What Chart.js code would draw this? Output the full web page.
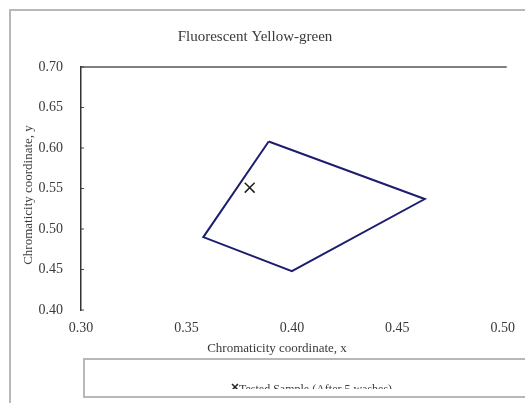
<!DOCTYPE html>
<html>
<head>
<meta charset="utf-8">
<script src="https://cdn.jsdelivr.net/npm/chart.js@4/dist/chart.umd.min.js"></script>
<style>
  html, body { margin: 0; padding: 0; background: #fff; }
  canvas { display: block; }
</style>
</head>
<body>
<canvas id="chart" width="525" height="403"></canvas>
<script>
// Data
const regionX = [0.389, 0.463, 0.400, 0.358, 0.389];
const regionY = [0.608, 0.537, 0.448, 0.490, 0.608];
const sampleX = [0.380];
const sampleY = [0.551];
const xTicks = [0.30, 0.35, 0.40, 0.45, 0.50];
const yTicks = [0.40, 0.45, 0.50, 0.55, 0.60, 0.65, 0.70];

const serif = '"Liberation Serif", "Times New Roman", serif';
const textColor = '#3a3a3a';

// Frame, top border, inner ticks, axis titles and the clipped legend box
const decor = {
  id: 'decor',
  beforeDraw(chart) {
    const ctx = chart.ctx;
    ctx.save();
    ctx.strokeStyle = '#b8b8b8';
    ctx.lineWidth = 2;
    ctx.strokeRect(10, 10, 540, 420);
    ctx.restore();
  },
  afterDraw(chart) {
    const { ctx, chartArea } = chart;
    const xs = chart.scales.x, ys = chart.scales.y;
    ctx.save();
    // top line of plot
    ctx.strokeStyle = '#555';
    ctx.lineWidth = 1.5;
    ctx.beginPath();
    ctx.moveTo(chartArea.left, chartArea.top);
    ctx.lineTo(chartArea.right + 4, chartArea.top);
    ctx.stroke();
    // small inside ticks on the y axis
    ctx.lineWidth = 1;
    ctx.strokeStyle = '#444';
    yTicks.forEach(v => {
      const py = ys.getPixelForValue(v);
      ctx.beginPath();
      ctx.moveTo(chartArea.left, py);
      ctx.lineTo(chartArea.left + 3, py);
      ctx.stroke();
    });
    // axis titles
    ctx.fillStyle = textColor;
    ctx.font = '13px ' + serif;
    ctx.textAlign = 'center';
    ctx.textBaseline = 'middle';
    ctx.fillText('Chromaticity coordinate, x', 277, 349);
    ctx.translate(29, 195);
    ctx.rotate(-Math.PI / 2);
    ctx.fillText('Chromaticity coordinate, y', 0, 0);
    ctx.restore();

    // legend box, text cut by the lower edge
    ctx.save();
    ctx.strokeStyle = '#b8b8b8';
    ctx.lineWidth = 2;
    ctx.strokeRect(84, 359, 460, 38);
    ctx.beginPath();
    ctx.rect(85, 360, 440, 29);
    ctx.clip();
    ctx.fillStyle = textColor;
    ctx.font = '12px ' + serif;
    ctx.textAlign = 'left';
    ctx.textBaseline = 'alphabetic';
    ctx.fillText('Tested Sample (After 5 washes)', 239, 393);
    ctx.strokeStyle = '#222';
    ctx.lineWidth = 1.5;
    ctx.beginPath();
    ctx.moveTo(232, 384); ctx.lineTo(238, 390);
    ctx.moveTo(238, 384); ctx.lineTo(232, 390);
    ctx.stroke();
    ctx.restore();
  }
};

new Chart(document.getElementById('chart'), {
  type: 'scatter',
  data: {
    datasets: [
      {
        label: 'Fluorescent yellow-green region',
        data: regionX.map((x, i) => ({ x, y: regionY[i] })),
        showLine: true,
        borderColor: '#1e1e6e',
        borderWidth: 2,
        pointRadius: 0,
        tension: 0
      },
      {
        label: 'Tested Sample (After 5 washes)',
        data: sampleX.map((x, i) => ({ x, y: sampleY[i] })),
        pointStyle: 'crossRot',
        pointRadius: 7,
        borderColor: '#222',
        borderWidth: 1.5
      }
    ]
  },
  options: {
    responsive: false,
    animation: false,
    layout: { padding: { left: 0, right: 15, bottom: 58, top: 0 } },
    plugins: {
      legend: { display: false },
      tooltip: { enabled: false },
      title: {
        display: true,
        text: 'Fluorescent Yellow-green',
        color: textColor,
        font: { family: serif, size: 15, weight: 'normal' },
        padding: { top: 28, bottom: 21 }
      }
    },
    scales: {
      x: {
        type: 'linear',
        min: 0.30,
        max: 0.50,
        afterBuildTicks: s => { s.ticks = xTicks.map(v => ({ value: v })); },
        afterFit: s => { s.height = 35; },
        grid: { display: false, drawTicks: false },
        border: { display: false },
        ticks: {
          callback: v => v.toFixed(2),
          color: textColor,
          font: { family: serif, size: 14 },
          padding: 10,
          maxRotation: 0,
          autoSkip: false
        }
      },
      y: {
        min: 0.40,
        max: 0.70,
        afterBuildTicks: s => { s.ticks = yTicks.map(v => ({ value: v })); },
        afterFit: s => { s.width = 81; },
        grid: { display: false, drawTicks: false },
        border: { display: true, color: '#333', width: 1.5 },
        ticks: {
          callback: v => v.toFixed(2),
          color: textColor,
          font: { family: serif, size: 14 },
          padding: 18,
          autoSkip: false
        }
      }
    }
  },
  plugins: [decor]
});
</script>
</body>
</html>
